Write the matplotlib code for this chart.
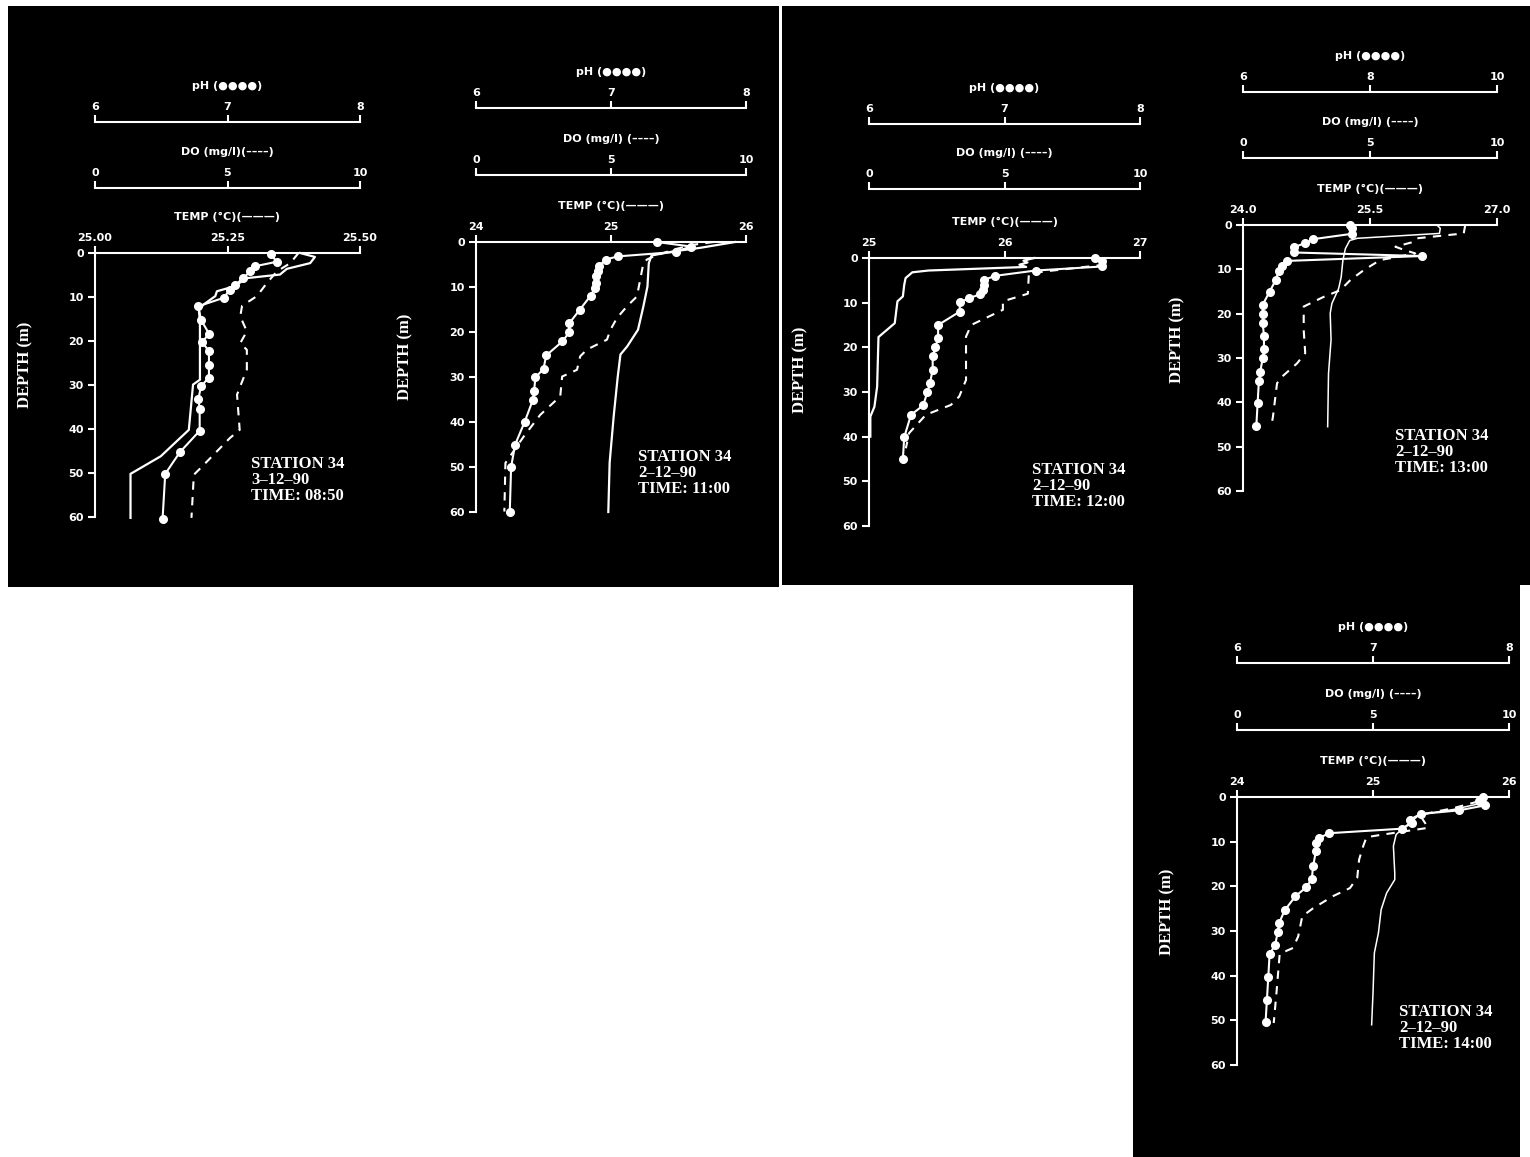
import matplotlib.pyplot as plt
from matplotlib.patches import Rectangle

plt.rcParams['font.family'] = ['DejaVu Sans']
plt.rcParams['font.weight'] = 'bold'

# ---- data (Station 34) ----
times = ['08:50', '11:00', '12:00', '13:00', '14:00']
dates = ['3–12–90', '2–12–90', '2–12–90', '2–12–90', '2–12–90']

temp_ticks = [[25.00, 25.25, 25.50], [24, 25, 26], [25, 26, 27], [24.0, 25.5, 27.0], [24, 25, 26]]
temp_labels = [['25.00', '25.25', '25.50'], ['24', '25', '26'], ['25', '26', '27'],
               ['24.0', '25.5', '27.0'], ['24', '25', '26']]
ph_ticks = [[6, 7, 8], [6, 7, 8], [6, 7, 8], [6, 8, 10], [6, 7, 8]]
do_ticks = [0, 5, 10]
depth_ticks = [0, 10, 20, 30, 40, 50, 60]

# 08:50
ph_depth_0850 = [0.3, 2.0, 3.0, 4.2, 5.7, 7.2, 8.3, 10.2, 12.1, 15.2, 18.3, 20.3, 22.3, 25.4, 28.3,
                 30.3, 33.2, 35.4, 40.4, 45.3, 50.2, 60.4]
ph_0850 = [7.33, 7.37, 7.21, 7.17, 7.12, 7.06, 7.02, 6.97, 6.78, 6.80, 6.86, 6.81, 6.86, 6.86, 6.86,
           6.80, 6.78, 6.79, 6.79, 6.64, 6.53, 6.51]
temp_depth_0850 = [0, 0.9, 2.3, 3.6, 4.9, 5.7, 7.6, 8.7, 9.8, 11.7, 12.9, 15.9, 28.8, 29.9, 40.2, 46.2,
                   50.2, 60.2]
temp_0850 = [25.387, 25.415, 25.406, 25.362, 25.349, 25.287, 25.262, 25.230, 25.227, 25.205, 25.196,
             25.198, 25.198, 25.185, 25.177, 25.124, 25.067, 25.067]
do_depth_0850 = [0, 2.3, 4.2, 6.8, 9.8, 12.0, 14.4, 17.8, 20.5, 22.0, 26.5, 30.3, 32.2, 40.2, 42.0,
                 48.9, 50.4, 60.2]
do_0850 = [7.68, 7.37, 6.86, 6.49, 6.11, 5.55, 5.48, 5.73, 5.48, 5.73, 5.73, 5.48, 5.36, 5.46, 5.10,
           3.98, 3.73, 3.64]

# 11:00
ph_depth_1100 = [0, 1.0, 2.2, 3.2, 3.9, 5.4, 6.5, 7.6, 9.1, 10.2, 11.9, 15.0, 18.1, 20.1, 22.1, 25.2,
                 28.2, 30.1, 33.2, 35.2, 40.0, 45.0, 50.0, 60.1]
ph_1100 = [7.34, 7.59, 7.48, 7.05, 6.96, 6.91, 6.90, 6.89, 6.89, 6.88, 6.85, 6.77, 6.69, 6.69, 6.64,
           6.52, 6.50, 6.44, 6.43, 6.42, 6.36, 6.29, 6.26, 6.25]
temp_depth_1100 = [0, 1.3, 2.1, 3.0, 4.7, 9.9, 14.3, 19.5, 23.2, 25.0, 29.9, 38.7, 49.0, 60.0]
temp_1100 = [25.92, 25.66, 25.46, 25.30, 25.28, 25.27, 25.24, 25.20, 25.12, 25.07, 25.05, 25.02,
             24.99, 24.98]
do_depth_1100 = [0, 0.6, 1.7, 3.2, 3.9, 4.7, 12.1, 14.3, 16.9, 19.5, 21.7, 23.9, 25.4, 28.4, 29.9,
                 34.3, 38.4, 43.2, 49.1, 59.9]
do_1100 = [8.8, 8.06, 7.3, 6.58, 6.33, 6.2, 5.96, 5.59, 5.22, 4.98, 4.85, 4.11, 3.86, 3.74, 3.19, 3.12,
           2.38, 1.77, 1.09, 1.05]

# 12:00
ph_depth_1200 = [0, 0.7, 1.9, 2.8, 4.0, 4.9, 6.0, 7.1, 8.1, 9.0, 9.9, 12.0, 15.0, 17.9, 20.0, 22.0,
                 25.0, 28.0, 30.1, 33.0, 35.1, 40.1, 45.0]
ph_1200 = [7.67, 7.72, 7.72, 7.23, 6.93, 6.85, 6.85, 6.84, 6.82, 6.74, 6.67, 6.67, 6.51, 6.51, 6.49,
           6.47, 6.47, 6.45, 6.43, 6.40, 6.31, 6.26, 6.25]
temp_depth_1200 = [0, 0.6, 1.0, 1.5, 2.0, 2.8, 3.2, 4.5, 6.0, 8.6, 9.7, 14.6, 17.7, 28.8, 33.3, 35.5,
                   40.0]
temp_1200 = [26.22, 26.14, 26.17, 26.11, 26.16, 25.44, 25.32, 25.27, 25.26, 25.25, 25.21, 25.19,
             25.07, 25.06, 25.04, 25.01, 25.01]
do_depth_1200 = [1.5, 3.0, 3.5, 8.0, 9.7, 11.6, 15.0, 17.6, 27.3, 31.0, 32.9, 35.1, 39.2, 42.6]
do_1200 = [8.7, 6.5, 5.9, 5.86, 4.94, 4.94, 3.77, 3.58, 3.58, 3.33, 3.02, 2.10, 1.48, 1.36]

# 13:00
ph_depth_1300 = [0, 0.75, 2.0, 3.2, 4.1, 5.0, 6.2, 7.0, 8.1, 9.2, 10.3, 12.3, 15.0, 18.0, 20.1, 22.0,
                 25.0, 28.0, 30.1, 33.2, 35.2, 40.2, 45.3]
ph_1300 = [7.68, 7.72, 7.71, 7.10, 6.98, 6.80, 6.80, 8.82, 6.69, 6.61, 6.56, 6.52, 6.42, 6.31, 6.31,
           6.31, 6.33, 6.33, 6.31, 6.27, 6.25, 6.23, 6.21]
temp_depth_1300 = [0, 0.75, 1.9, 3.0, 3.5, 5.3, 7.9, 11.7, 14.3, 17.7, 19.9, 25.9, 33.5, 45.5]
temp_1300 = [26.29, 26.33, 26.32, 25.35, 25.26, 25.21, 25.18, 25.16, 25.13, 25.05, 25.03, 25.04,
             25.01, 25.00]
do_depth_1300 = [0, 1.9, 3.0, 3.8, 4.9, 5.6, 6.4, 7.5, 7.9, 10.2, 12.4, 14.7, 16.2, 18.4, 23.7, 28.9,
                 31.2, 34.2, 35.7, 43.2, 44.2]
do_1300 = [8.75, 8.69, 6.85, 6.72, 6.0, 6.33, 6.78, 5.8, 5.4, 4.75, 4.23, 3.83, 3.18, 2.39, 2.39, 2.45,
           2.13, 1.54, 1.34, 1.18, 1.15]

# 14:00
ph_depth_1400 = [0, 1.0, 1.9, 3.0, 3.8, 5.1, 5.8, 7.1, 8.1, 9.2, 10.3, 12.2, 15.4, 18.3, 20.2, 22.2,
                 25.4, 28.2, 30.2, 33.2, 35.1, 40.3, 45.4, 50.4]
ph_1400 = [7.81, 7.78, 7.82, 7.63, 7.35, 7.27, 7.29, 7.21, 6.68, 6.60, 6.58, 6.58, 6.56, 6.55, 6.51,
           6.43, 6.35, 6.31, 6.30, 6.28, 6.24, 6.23, 6.22, 6.21]
temp_depth_1400 = [0, 1.3, 2.8, 4.0, 5.8, 7.3, 8.4, 11.0, 17.0, 18.5, 21.5, 25.2, 30.4, 34.9, 43.9, 51.0]
temp_1400 = [25.83, 25.81, 25.59, 25.34, 25.27, 25.21, 25.17, 25.15, 25.16, 25.16, 25.10, 25.06, 25.04,
             25.01, 25.00, 24.99]
do_depth_1400 = [1.0, 2.5, 4.0, 6.9, 8.4, 9.0, 11.0, 14.0, 18.1, 20.4, 22.2, 24.9, 26.7, 31.2, 33.8,
                 35.1, 43.9, 50.6]
do_1400 = [8.87, 7.95, 6.72, 7.03, 5.37, 4.76, 4.64, 4.49, 4.42, 4.15, 3.53, 2.80, 2.40, 2.25, 2.06,
           1.57, 1.45, 1.35]

# ---- figure / layout (pixels of the 1530x1157 canvas) ----
W, H = 1530, 1157
fig = plt.figure(figsize=(W / 100, H / 100), dpi=100, facecolor='white')


def fx(px):
    return px / W


def fy(py):
    return 1 - py / H


# black photo backgrounds (drawn below the axes)
for bx0, by0, bx1, by1 in [(8, 6, 779, 587), (782, 6, 1530, 585), (1133, 583, 1520, 1157)]:
    fig.patches.append(Rectangle((fx(bx0), fy(by1)), (bx1 - bx0) / W, (by1 - by0) / H,
                                 transform=fig.transFigure, facecolor='black',
                                 edgecolor='none', zorder=-5))

# x0, x1, y_top, y_60, y_do, y_ph, depth-label x, depth-label y, station x, station y
layouts = [(95, 360, 253, 517, 188, 122, 25, 365, 251, 464),
           (476, 746, 242, 512, 175, 108, 405, 357, 638, 457),
           (869, 1140, 258, 526, 189, 124, 800, 370, 1032, 470),
           (1243, 1497, 225, 491, 158, 92, 1177, 340, 1395, 436),
           (1237, 1509, 797, 1065, 730, 663, 1167, 912, 1399, 1012)]
do_titles = ['DO (mg/l)(––––)'] + ['DO (mg/l) (––––)'] * 4
temp_lw = [1.6, 1.6, 1.6, 1.1, 1.1]

profiles = [
    (ph_depth_0850, ph_0850, temp_depth_0850, temp_0850, do_depth_0850, do_0850),
    (ph_depth_1100, ph_1100, temp_depth_1100, temp_1100, do_depth_1100, do_1100),
    (ph_depth_1200, ph_1200, temp_depth_1200, temp_1200, do_depth_1200, do_1200),
    (ph_depth_1300, ph_1300, temp_depth_1300, temp_1300, do_depth_1300, do_1300),
    (ph_depth_1400, ph_1400, temp_depth_1400, temp_1400, do_depth_1400, do_1400),
]

tick_kw = dict(colors='white', width=1.5, length=5, labelsize=8)

for i, (x0, x1, ytop, ybot, ydo, yph, xlab, ylab, xst, yst) in enumerate(layouts):
    pd_, ph, td, tv, dd, dv = profiles[i]

    ax = fig.add_axes([fx(x0), fy(ybot), (x1 - x0) / W, (ybot - ytop) / H])
    # extra scales: DO and pH, stacked above the temperature axis
    ax_do = ax.twiny()
    ax_ph = ax.twiny()

    ax.set_facecolor('none')
    ax.set_xlim(temp_ticks[i][0], temp_ticks[i][-1])
    ax.set_ylim(60, 0)
    for s in ['bottom', 'right']:
        ax.spines[s].set_visible(False)
    for s in ['top', 'left']:
        ax.spines[s].set_color('white')
        ax.spines[s].set_linewidth(1.5)
    ax.xaxis.tick_top()
    ax.set_xticks(temp_ticks[i])
    ax.set_xticklabels(temp_labels[i])
    ax.set_yticks(depth_ticks)
    ax.tick_params(axis='x', top=True, bottom=False, labeltop=True, labelbottom=False,
                   direction='out', pad=2, **tick_kw)
    ax.tick_params(axis='y', direction='out', pad=3, **tick_kw)

    for tw, lim, ticks, ypos in [(ax_do, (0, 10), do_ticks, ydo),
                                 (ax_ph, (ph_ticks[i][0], ph_ticks[i][-1]), ph_ticks[i], yph)]:
        tw.set_xlim(*lim)
        tw.set_ylim(60, 0)
        for s in ['bottom', 'left', 'right']:
            tw.spines[s].set_visible(False)
        tw.spines['top'].set_color('white')
        tw.spines['top'].set_linewidth(1.5)
        tw.spines['top'].set_position(('outward', (ytop - ypos) * 0.72))
        tw.set_xticks(ticks)
        tw.set_xticklabels([str(t) for t in ticks])
        tw.tick_params(axis='x', direction='out', pad=2, **tick_kw)

    # profiles
    ax.plot(tv, td, color='white', lw=temp_lw[i], clip_on=False)
    ax_do.plot(dv, dd, color='white', lw=1.5, ls=(0, (4, 3.5)), clip_on=False)
    ax_ph.plot(ph, pd_, color='white', lw=1.5, marker='o', ms=5.5, clip_on=False)

    # scale titles
    xc = fx((x0 + x1) / 2)
    fig.text(xc, fy(yph - 36), 'pH (●●●●)', color='white', fontsize=8, ha='center', va='center')
    fig.text(xc, fy(ydo - 36), do_titles[i], color='white', fontsize=8, ha='center', va='center')
    fig.text(xc, fy(ytop - 36), 'TEMP (°C)(———)', color='white', fontsize=8, ha='center', va='center')

    fig.text(fx(xlab), fy(ylab), 'DEPTH (m)', rotation=90, color='white', fontsize=12,
             family='Liberation Serif', weight='bold', ha='center', va='center')
    for k, line in enumerate(['STATION 34', dates[i], 'TIME: ' + times[i]]):
        fig.text(fx(xst), fy(yst + 16 * k), line, color='white', fontsize=12,
                 family='Liberation Serif', weight='bold', ha='left', va='center')

fig.savefig('out.png', dpi=100, facecolor='white')
